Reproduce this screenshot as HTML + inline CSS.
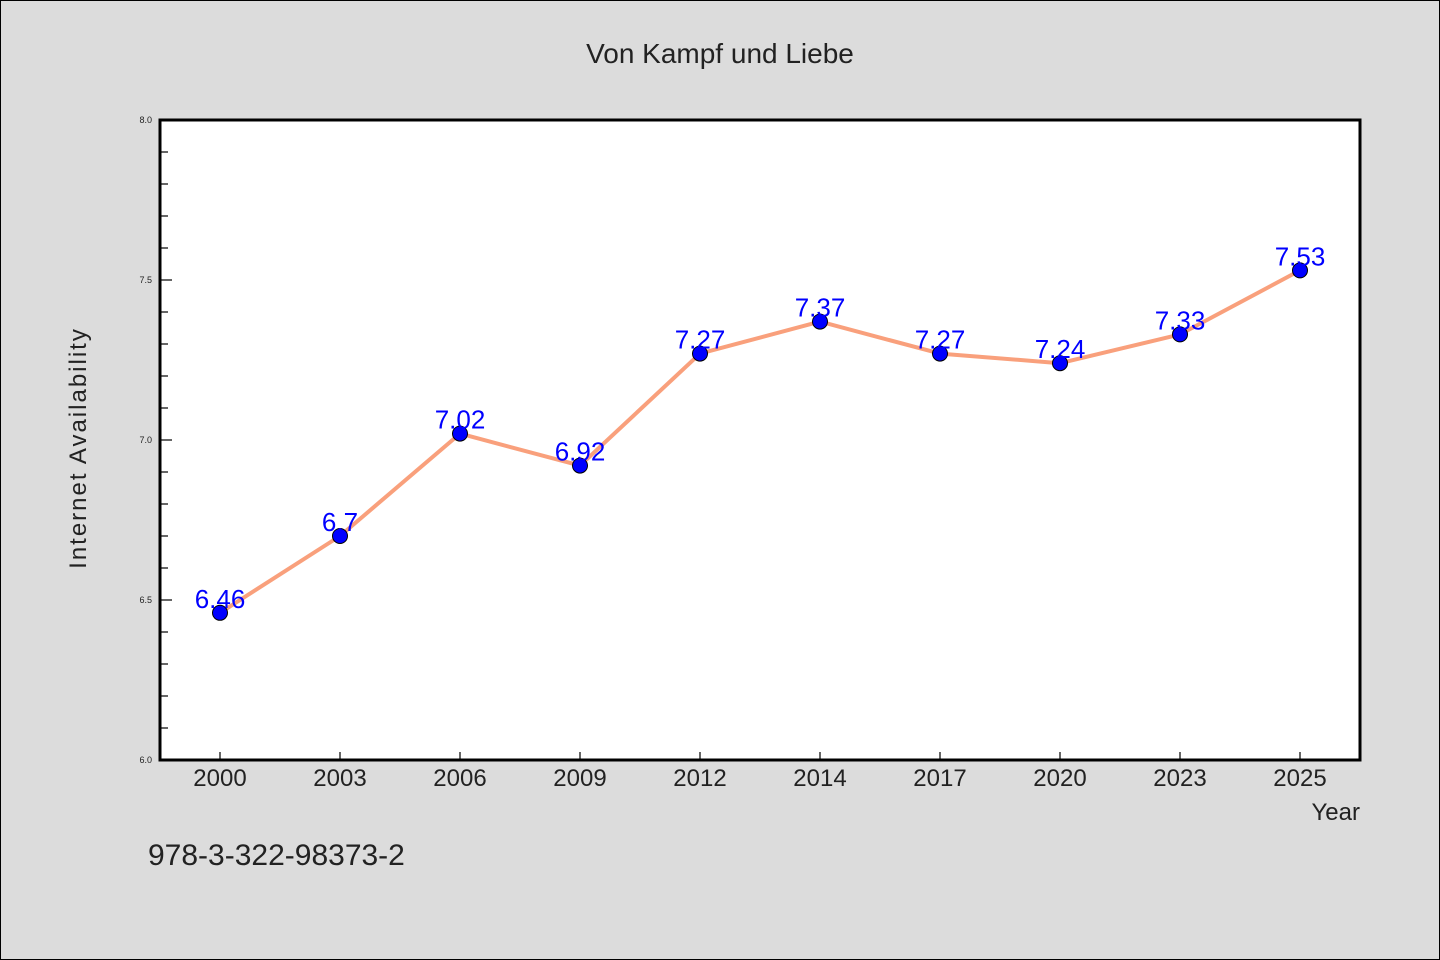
<!DOCTYPE html>
<html><head><meta charset="utf-8"><style>
html,body{margin:0;padding:0;background:#dcdcdc}
svg{display:block}
text{font-family:"WenQuanYi Zen Hei","Liberation Sans",sans-serif}
</style></head><body>
<svg id="c" width="1440" height="960" xmlns="http://www.w3.org/2000/svg">
<rect x="0.5" y="0.5" width="1439" height="959" fill="#dcdcdc" stroke="#000"/>
<text x="720" y="63" text-anchor="middle" font-size="28" fill="#222">Von Kampf und Liebe</text>
<rect x="160" y="120" width="1200" height="640" fill="#fff"/>
<g id="axes"></g>
<g id="marks"></g>
<rect x="160" y="120" width="1200" height="640" fill="none" stroke="#000" stroke-width="3"/>
<text x="86" y="448" text-anchor="middle" font-size="24" fill="#222" letter-spacing="2" transform="rotate(-90 86 448)">Internet Availability</text>
<text x="1360" y="820" text-anchor="end" font-size="24" fill="#222">Year</text>
<text x="148" y="865" font-size="30" fill="#222">978-3-322-98373-2</text>
</svg>
<script>
const categories=["2000","2003","2006","2009","2012","2014","2017","2020","2023","2025"];
const values=[6.46,6.7,7.02,6.92,7.27,7.37,7.27,7.24,7.33,7.53];
const yTicks=["6.0","6.5","7.0","7.5","8.0"];
const NS="http://www.w3.org/2000/svg";
const L=160,T=120,B=760,ymin=6,ymax=8;
const xs=i=>220+i*120;
const ys=v=>B-(v-ymin)/(ymax-ymin)*(B-T);
function mk(tag,attrs,parent){const e=document.createElementNS(NS,tag);for(const k in attrs)e.setAttribute(k,attrs[k]);parent.appendChild(e);return e;}
const ax=document.getElementById('axes'),mg=document.getElementById('marks');
for(let k=0;k<=20;k++){const v=ymin+k*0.1;const y=ys(v);const major=k%5===0;
const t=mk('line',{x1:L,x2:L+(major?12:8),y1:y,y2:y,stroke:'#000','stroke-width':1.2},ax);

}
yTicks.forEach(s=>{const t=mk('text',{x:L-8,y:ys(parseFloat(s))+3,'text-anchor':'end','font-size':9,fill:'#222'},ax);t.textContent=s;

});
categories.forEach((c,i)=>{const l=mk('line',{x1:xs(i),x2:xs(i),y1:B,y2:B-8,stroke:'#000','stroke-width':1.2},ax);


const t=mk('text',{x:xs(i),y:B+26,'text-anchor':'middle','font-size':24,fill:'#222'},ax);t.textContent=c;

});
const pl=mk('polyline',{points:values.map((v,i)=>xs(i)+','+ys(v)).join(' '),fill:'none',stroke:'#f9a07c','stroke-width':4,'stroke-linejoin':'round'},mg);


values.forEach((v,i)=>{const c=mk('circle',{cx:xs(i),cy:ys(v),r:7.5,fill:'#0000ff',stroke:'#000','stroke-width':1},mg);


const t=mk('text',{x:xs(i),y:ys(v)-5,'text-anchor':'middle','font-size':26,fill:'#0000ff'},mg);t.textContent=String(v);

});
</script>
</body></html>
